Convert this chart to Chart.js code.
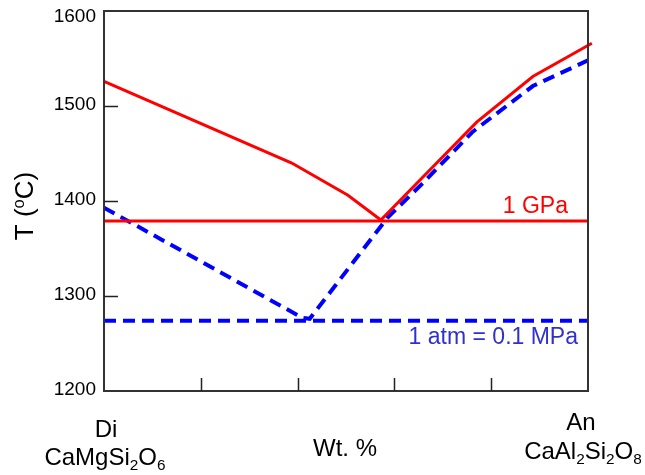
<!DOCTYPE html>
<html>
<head>
<meta charset="utf-8">
<script src="https://cdn.jsdelivr.net/npm/chart.js@4"></script>
<style>
  html, body { margin: 0; padding: 0; background: #fff; }
  #wrap { width: 645px; height: 475px; }
</style>
</head>
<body>
<div id="wrap"><canvas id="c" width="645" height="475"></canvas></div>
<script>
  // ---- Data (composition in wt.% An, temperature in deg C) ----
  const gpaLiqX = [0, 38.8, 50.4, 57.2, 77, 88.6, 100.8];
  const gpaLiqT = [1526, 1440, 1406, 1380, 1483, 1531, 1566];
  const gpaSolX = [0, 100];
  const gpaSolT = [1379, 1379];
  const atmLiqX = [0, 41, 42.5, 58.5, 65.9, 76.2, 88.6, 100];
  const atmLiqT = [1393, 1277, 1276, 1382, 1419, 1473, 1521, 1548];
  const atmSolX = [0, 100];
  const atmSolT = [1274, 1274];
  const yTicks = [1200, 1300, 1400, 1500, 1600];
  const xTicks = [20, 40, 60, 80];

  const FONT = '"Liberation Sans", Arial, sans-serif';
  const RED = '#ff0000';
  const BLUE = '#0000ff';

  function pts(xs, ys) {
    return xs.map((x, i) => ({ x, y: ys[i] }));
  }

  // draw text runs with sub/superscripts
  function drawRich(ctx, parts, x, y, size, align, color) {
    const sizes = parts.map(p => p.s ? size * 0.64 : size);
    let total = 0;
    parts.forEach((p, i) => {
      ctx.font = sizes[i] + 'px ' + FONT;
      total += ctx.measureText(p.t).width;
    });
    let cx = align === 'center' ? x - total / 2 : (align === 'right' ? x - total : x);
    ctx.fillStyle = color;
    ctx.textAlign = 'left';
    ctx.textBaseline = 'alphabetic';
    parts.forEach((p, i) => {
      ctx.font = sizes[i] + 'px ' + FONT;
      let dy = 0;
      if (p.s === -1) dy = size * 0.22;
      if (p.s === 1) dy = -size * 0.36;
      ctx.fillText(p.t, cx, y + dy);
      cx += ctx.measureText(p.t).width;
    });
  }

  const decor = {
    id: 'decor',
    afterDraw(chart) {
      const { ctx, chartArea: a, scales } = chart;
      const xs = scales.x, ys = scales.y;
      ctx.save();
      // frame
      ctx.strokeStyle = '#333';
      ctx.lineWidth = 2;
      ctx.strokeRect(a.left, a.top, a.right - a.left, a.bottom - a.top);
      // inward ticks
      ctx.strokeStyle = '#222';
      ctx.lineWidth = 1.5;
      ctx.beginPath();
      xTicks.forEach(v => {
        const px = Math.round(xs.getPixelForValue(v)) + 0.5;
        ctx.moveTo(px, a.bottom);
        ctx.lineTo(px, a.bottom - 13);
      });
      yTicks.slice(1, -1).forEach(v => {
        const py = Math.round(ys.getPixelForValue(v)) + 0.5;
        ctx.moveTo(a.left, py);
        ctx.lineTo(a.left + 14, py);
      });
      ctx.stroke();

      // y tick labels
      ctx.font = '19px ' + FONT;
      ctx.fillStyle = '#000';
      ctx.textAlign = 'right';
      ctx.textBaseline = 'middle';
      yTicks.forEach(v => {
        const py = ys.getPixelForValue(v) + (v === 1600 ? 6 : -1);
        ctx.fillText(String(v), a.left - 8, py);
      });

      // curve labels
      drawRich(ctx, [{ t: '1 GPa' }], 568, 213, 23, 'right', RED);
      drawRich(ctx, [{ t: '1 atm = 0.1 MPa' }], 578, 344, 23, 'right', '#3030cc');

      // end members and axis title
      drawRich(ctx, [{ t: 'Di' }], 106, 437, 24, 'center', '#000');
      drawRich(ctx, [{ t: 'CaMgSi' }, { t: '2', s: -1 }, { t: 'O' }, { t: '6', s: -1 }], 105, 465, 24, 'center', '#000');
      drawRich(ctx, [{ t: 'An' }], 581, 430, 24, 'center', '#000');
      drawRich(ctx, [{ t: 'CaAl' }, { t: '2', s: -1 }, { t: 'Si' }, { t: '2', s: -1 }, { t: 'O' }, { t: '8', s: -1 }], 583, 459, 24, 'center', '#000');
      drawRich(ctx, [{ t: 'Wt. %' }], 345, 456, 24, 'center', '#000');

      ctx.translate(33, 206);
      ctx.rotate(-Math.PI / 2);
      drawRich(ctx, [{ t: 'T (' }, { t: 'o', s: 1 }, { t: 'C)' }], 0, 0, 26, 'center', '#000');
      ctx.restore();
    }
  };

  new Chart(document.getElementById('c'), {
    type: 'scatter',
    data: {
      datasets: [
        {
          data: pts(gpaLiqX, gpaLiqT),
          showLine: true, borderColor: RED, borderWidth: 3,
          pointRadius: 0, tension: 0, clip: false
        },
        {
          data: pts(gpaSolX, gpaSolT),
          showLine: true, borderColor: RED, borderWidth: 3,
          pointRadius: 0
        },
        {
          data: pts(atmLiqX, atmLiqT),
          showLine: true, borderColor: BLUE, borderWidth: 4,
          borderDash: [12, 7], pointRadius: 0, tension: 0
        },
        {
          data: pts(atmSolX, atmSolT),
          showLine: true, borderColor: BLUE, borderWidth: 4,
          borderDash: [12, 7], pointRadius: 0
        }
      ]
    },
    options: {
      responsive: false,
      animation: false,
      events: [],
      layout: { padding: { left: 104, right: 57, top: 11, bottom: 84 } },
      plugins: { legend: { display: false }, tooltip: { enabled: false } },
      scales: {
        x: { type: 'linear', min: 0, max: 100, display: false },
        y: { type: 'linear', min: 1200, max: 1600, display: false }
      }
    },
    plugins: [decor]
  });
</script>
</body>
</html>
